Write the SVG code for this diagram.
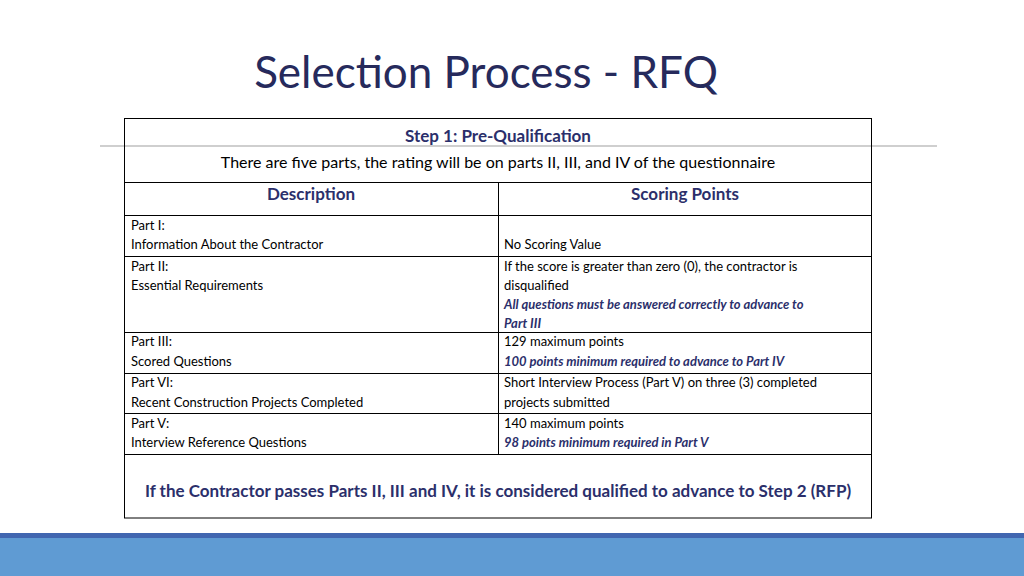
<svg xmlns="http://www.w3.org/2000/svg" width="1024" height="576" viewBox="0 0 1024 576">
<style>
text{font-family:Lato,"Open Sans","Liberation Sans",sans-serif}
.b{font-size:13px;fill:#000}
.i{font-size:13px;fill:#2b2f6b;font-weight:bold;font-style:italic}
.h{font-size:17px;fill:#2b2f6b;font-weight:bold}
.ln{stroke:#000;stroke-width:1;fill:none}
</style>
<rect width="1024" height="576" fill="#fff"/>
<text x="486" y="88" text-anchor="middle" font-size="44" fill="#262a5c">Selection Process - RFQ</text>
<line x1="100" y1="146" x2="937" y2="146" stroke="#bfbfbf" stroke-width="1.5"/>
<g id="table">
<rect class="ln" x="124.5" y="118.5" width="747" height="399.5"/>
<line class="ln" x1="124" y1="182.5" x2="872" y2="182.5"/>
<line class="ln" x1="124" y1="215.5" x2="872" y2="215.5"/>
<line class="ln" x1="124" y1="256.5" x2="872" y2="256.5"/>
<line class="ln" x1="124" y1="332.5" x2="872" y2="332.5"/>
<line class="ln" x1="124" y1="373.5" x2="872" y2="373.5"/>
<line class="ln" x1="124" y1="413.5" x2="872" y2="413.5"/>
<line class="ln" x1="124" y1="454.5" x2="872" y2="454.5"/>
<line class="ln" x1="498.5" y1="182" x2="498.5" y2="454"/>
<text x="498" y="142" text-anchor="middle" class="h" font-size="18">Step 1: Pre-Qualification</text>
<text x="498" y="168" text-anchor="middle" font-size="16" fill="#000">There are five parts, the rating will be on parts II, III, and IV of the questionnaire</text>
<text x="311" y="200" text-anchor="middle" class="h" font-size="16">Description</text>
<text x="685" y="200" text-anchor="middle" class="h" font-size="16">Scoring Points</text>
<text x="131" y="230" class="b">Part I:</text>
<text x="131" y="249" class="b">Information About the Contractor</text>
<text x="504" y="249" class="b">No Scoring Value</text>
<text x="131" y="271" class="b">Part II:</text>
<text x="131" y="290" class="b">Essential Requirements</text>
<text x="504" y="271" class="b">If the score is greater than zero (0), the contractor is</text>
<text x="504" y="290" class="b">disqualified</text>
<text x="504" y="309" class="i">All questions must be answered correctly to advance to</text>
<text x="504" y="328" class="i">Part III</text>
<text x="131" y="346" class="b">Part III:</text>
<text x="131" y="366" class="b">Scored Questions</text>
<text x="504" y="346" class="b"> 129 maximum points</text>
<text x="504" y="366" class="i">100 points minimum required to advance to Part IV</text>
<text x="131" y="387" class="b">Part VI:</text>
<text x="131" y="407" class="b">Recent Construction Projects   Completed</text>
<text x="504" y="387" class="b">Short Interview Process (Part V) on three (3) completed</text>
<text x="504" y="407" class="b">projects submitted</text>
<text x="131" y="428" class="b">Part V:</text>
<text x="131" y="447" class="b">Interview Reference Questions</text>
<text x="504" y="428" class="b"> 140 maximum points</text>
<text x="504" y="447" class="i">98 points minimum required in Part V</text>
<text x="498" y="497" text-anchor="middle" class="h">If the Contractor passes Parts II, III and IV, it is considered qualified to advance to Step 2 (RFP)</text>
</g>
<rect x="0" y="533" width="1024" height="5" fill="#4166b0"/>
<rect x="0" y="538" width="1024" height="38" fill="#5f9bd3"/>
</svg>
